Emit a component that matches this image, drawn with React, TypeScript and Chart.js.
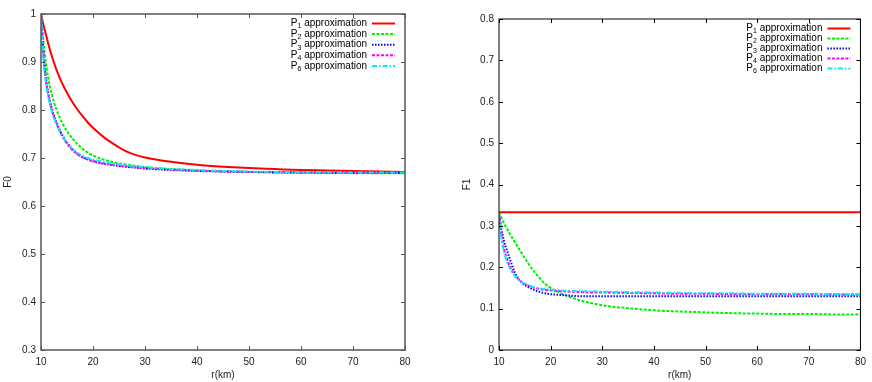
import React, { useEffect, useRef } from "react";
import { Chart, registerables } from "chart.js";

Chart.register(...registerables);

// ---------- data ----------
const R_KM = [10, 10.5, 11, 11.5, 12, 13, 14, 15, 16, 17, 18, 19, 20, 22, 24, 26, 28, 30, 35, 40, 45, 50, 55, 60, 65, 70, 75, 80];

const F0_P1 = [1.0, 0.976, 0.955, 0.934, 0.915, 0.883, 0.857, 0.836, 0.817, 0.801, 0.787, 0.774, 0.763, 0.744, 0.729, 0.716, 0.707, 0.701, 0.692, 0.686, 0.682, 0.679, 0.677, 0.675, 0.674, 0.673, 0.672, 0.671];
const F0_P2 = [1.0, 0.940, 0.893, 0.860, 0.835, 0.800, 0.775, 0.756, 0.741, 0.729, 0.719, 0.711, 0.705, 0.697, 0.691, 0.687, 0.684, 0.681, 0.677, 0.674, 0.672, 0.671, 0.670, 0.670, 0.669, 0.669, 0.668, 0.668];
const F0_P3 = [1.0, 0.915, 0.862, 0.830, 0.806, 0.774, 0.750, 0.732, 0.719, 0.709, 0.702, 0.697, 0.693, 0.688, 0.685, 0.682, 0.680, 0.678, 0.675, 0.673, 0.672, 0.671, 0.670, 0.670, 0.669, 0.669, 0.669, 0.669];
const F0_P4 = [1.0, 0.910, 0.857, 0.826, 0.803, 0.771, 0.747, 0.730, 0.717, 0.708, 0.701, 0.697, 0.694, 0.689, 0.686, 0.683, 0.681, 0.679, 0.676, 0.674, 0.672, 0.671, 0.671, 0.670, 0.670, 0.670, 0.669, 0.669];
const F0_P6 = [1.0, 0.905, 0.852, 0.822, 0.800, 0.770, 0.748, 0.732, 0.720, 0.711, 0.705, 0.700, 0.697, 0.692, 0.688, 0.685, 0.683, 0.681, 0.677, 0.675, 0.673, 0.672, 0.671, 0.671, 0.670, 0.670, 0.670, 0.670];

const F1_P1 = [0.333, 0.333, 0.333, 0.333, 0.333, 0.333, 0.333, 0.333, 0.333, 0.333, 0.333, 0.333, 0.333, 0.333, 0.333, 0.333, 0.333, 0.333, 0.333, 0.333, 0.333, 0.333, 0.333, 0.333, 0.333, 0.333, 0.333, 0.333];
const F1_P2 = [0.333, 0.319, 0.305, 0.294, 0.283, 0.262, 0.242, 0.222, 0.203, 0.187, 0.172, 0.159, 0.150, 0.137, 0.127, 0.119, 0.113, 0.108, 0.101, 0.096, 0.093, 0.091, 0.089, 0.088, 0.087, 0.087, 0.086, 0.086];
const F1_P3 = [0.330, 0.290, 0.262, 0.243, 0.224, 0.189, 0.168, 0.157, 0.150, 0.144, 0.140, 0.137, 0.135, 0.133, 0.131, 0.130, 0.130, 0.130, 0.130, 0.130, 0.130, 0.130, 0.130, 0.130, 0.130, 0.130, 0.130, 0.130];
const F1_P4 = [0.330, 0.275, 0.243, 0.222, 0.205, 0.182, 0.168, 0.160, 0.154, 0.150, 0.147, 0.145, 0.144, 0.142, 0.141, 0.140, 0.139, 0.139, 0.138, 0.137, 0.136, 0.136, 0.135, 0.135, 0.135, 0.135, 0.134, 0.134];
const F1_P6 = [0.330, 0.268, 0.236, 0.215, 0.200, 0.180, 0.167, 0.160, 0.155, 0.151, 0.149, 0.147, 0.146, 0.144, 0.143, 0.142, 0.142, 0.141, 0.140, 0.139, 0.138, 0.137, 0.137, 0.136, 0.136, 0.136, 0.135, 0.135];

const X_TICKS = [10, 20, 30, 40, 50, 60, 70, 80];
const F0_TICKS = [0.3, 0.4, 0.5, 0.6, 0.7, 0.8, 0.9, 1];
const F1_TICKS = [0, 0.1, 0.2, 0.3, 0.4, 0.5, 0.6, 0.7, 0.8];

const ORDERS = ["1", "2", "3", "4", "6"];
const LABEL_PREFIX = "P";
const LABEL_SUFFIX = " approximation";
const X_TITLE = "r(km)";

// ---------- styles ----------
const COLORS = ["#ff0000", "#00f000", "#0000ff", "#ff00ff", "#00f0f0"];
const DASHES: number[][] = [[], [3, 1.5], [1.5, 1.5], [3, 1.5], [5, 2, 1.5, 2]];
const FONT = "'Liberation Sans Narrow', 'Liberation Sans', Arial, sans-serif";

type PanelCfg = {
  series: number[][];
  ticks: number[];
  yTitle: string;
  min: number;
  max: number;
  yWidth: number;
  padRight: number;
  padTop: number;
  yTitlePad: number;
  frameColor: string;
  frameWidth: number;
  legendGap: number;
};

function makeChart(canvas: HTMLCanvasElement, cfg: PanelCfg) {
  const datasets = cfg.series.map((vals, i) => ({
    label: LABEL_PREFIX + ORDERS[i] + LABEL_SUFFIX,
    data: R_KM.map((x, j) => ({ x, y: vals[j] })),
    borderColor: COLORS[i],
    backgroundColor: COLORS[i],
    borderWidth: 2,
    borderDash: DASHES[i],
    pointRadius: 0,
    fill: false,
    cubicInterpolationMode: "monotone" as const,
    order: cfg.series.length - 1 - i,
  }));

  const framePlugin = {
    id: "frame",
    afterDraw(chart: any) {
      const { ctx, chartArea: a } = chart;
      const xs = chart.scales.x;
      const ys = chart.scales.y;
      ctx.save();
      ctx.strokeStyle = cfg.frameColor;
      ctx.lineWidth = cfg.frameWidth;
      ctx.setLineDash([]);
      ctx.strokeRect(a.left, a.top, a.right - a.left, a.bottom - a.top);
      ctx.lineWidth = 1;
      ctx.beginPath();
      const tl = 4;
      X_TICKS.forEach((v) => {
        const p = Math.round(xs.getPixelForValue(v)) + 0.5;
        ctx.moveTo(p, a.bottom);
        ctx.lineTo(p, a.bottom - tl);
        ctx.moveTo(p, a.top);
        ctx.lineTo(p, a.top + tl);
      });
      cfg.ticks.forEach((v) => {
        const p = Math.round(ys.getPixelForValue(v)) + 0.5;
        ctx.moveTo(a.left, p);
        ctx.lineTo(a.left + tl, p);
        ctx.moveTo(a.right, p);
        ctx.lineTo(a.right - tl, p);
      });
      ctx.stroke();

      // legend
      const textRight = a.right - 38;
      const lineL = a.right - 33;
      const lineR = a.right - 10;
      chart.data.datasets.forEach((ds: any, i: number) => {
        const y = a.top + 9.5 + i * cfg.legendGap;
        ctx.fillStyle = "#000";
        ctx.textBaseline = "middle";
        ctx.textAlign = "right";
        ctx.font = "10px " + FONT;
        ctx.fillText(LABEL_SUFFIX, textRight, y);
        const wSuf = ctx.measureText(LABEL_SUFFIX).width;
        ctx.font = "7px " + FONT;
        ctx.fillText(ORDERS[i], textRight - wSuf, y + 3);
        const wSub = ctx.measureText(ORDERS[i]).width;
        ctx.font = "10px " + FONT;
        ctx.fillText(LABEL_PREFIX, textRight - wSuf - wSub, y);
        ctx.strokeStyle = ds.borderColor;
        ctx.lineWidth = 2;
        ctx.setLineDash(ds.borderDash);
        ctx.beginPath();
        ctx.moveTo(lineL, y);
        ctx.lineTo(lineR, y);
        ctx.stroke();
        ctx.setLineDash([]);
      });
      ctx.restore();
    },
  };

  return new Chart(canvas, {
    type: "line",
    data: { datasets },
    plugins: [framePlugin],
    options: {
      animation: false,
      responsive: false,
      devicePixelRatio: 1,
      layout: { padding: { left: 0, right: cfg.padRight, top: cfg.padTop, bottom: 0 } },
      plugins: { legend: { display: false }, tooltip: { enabled: false } },
      scales: {
        x: {
          type: "linear",
          min: 10,
          max: 80,
          afterBuildTicks: (s: any) => {
            s.ticks = X_TICKS.map((v) => ({ value: v }));
          },
          afterFit: (s: any) => {
            s.height = 32;
          },
          grid: { display: false, drawTicks: false },
          border: { display: false },
          ticks: {
            padding: 6,
            maxRotation: 0,
            autoSkip: false,
            color: "#222",
            font: { family: FONT, size: 10 },
            callback: (v: any) => String(v),
          },
          title: {
            display: true,
            text: X_TITLE,
            color: "#222",
            font: { family: FONT, size: 10 },
            padding: { top: 0, bottom: 1 },
          },
        },
        y: {
          type: "linear",
          min: cfg.min,
          max: cfg.max,
          afterBuildTicks: (s: any) => {
            s.ticks = cfg.ticks.map((v) => ({ value: v }));
          },
          afterFit: (s: any) => {
            s.width = cfg.yWidth;
          },
          grid: { display: false, drawTicks: false },
          border: { display: false },
          ticks: {
            padding: 5,
            autoSkip: false,
            color: "#222",
            font: { family: FONT, size: 10 },
            callback: (v: any) => String(Number(Number(v).toFixed(1))),
          },
          title: {
            display: true,
            text: cfg.yTitle,
            color: "#222",
            font: { family: FONT, size: 10 },
            padding: { top: cfg.yTitlePad, bottom: 0 },
          },
        },
      },
    },
  } as any);
}

export default function App() {
  const leftRef = useRef<HTMLCanvasElement>(null);
  const rightRef = useRef<HTMLCanvasElement>(null);

  useEffect(() => {
    const c1 = makeChart(leftRef.current!, {
      series: [F0_P1, F0_P2, F0_P3, F0_P4, F0_P6],
      ticks: F0_TICKS,
      yTitle: "F0",
      min: 0.3,
      max: 1,
      yWidth: 41,
      padRight: 31,
      padTop: 14,
      yTitlePad: 2,
      frameColor: "#555",
      frameWidth: 1.5,
      legendGap: 10.6,
    });
    const c2 = makeChart(rightRef.current!, {
      series: [F1_P1, F1_P2, F1_P3, F1_P4, F1_P6],
      ticks: F1_TICKS,
      yTitle: "F1",
      min: 0,
      max: 0.8,
      yWidth: 63,
      padRight: 8,
      padTop: 19,
      yTitlePad: 25,
      frameColor: "#000",
      frameWidth: 1,
      legendGap: 10,
    });
    return () => {
      c1.destroy();
      c2.destroy();
    };
  }, []);

  return (
    <div style={{ position: "fixed", left: 0, top: 0, width: 872, height: 382, background: "#fff" }}>
      <canvas ref={leftRef} width={436} height={382} style={{ position: "absolute", left: 0, top: 0, width: 436, height: 382 }} />
      <canvas ref={rightRef} width={436} height={382} style={{ position: "absolute", left: 436, top: 0, width: 436, height: 382 }} />
    </div>
  );
}
